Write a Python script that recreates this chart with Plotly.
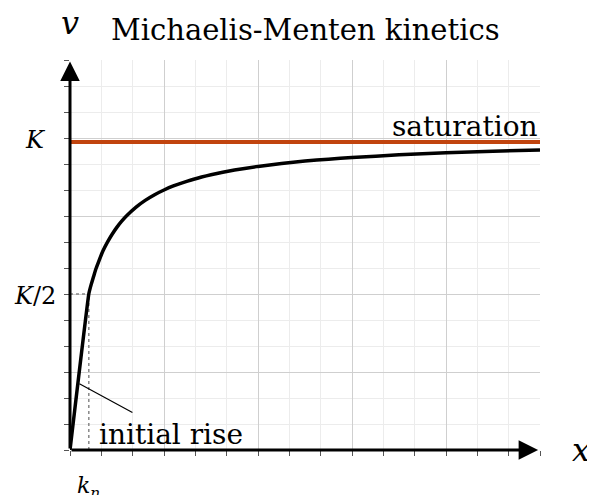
import plotly.graph_objects as go

# ---- data ----
x_vals = [0, 0.2, 0.225, 0.25, 0.275, 0.3, 0.35, 0.4, 0.45, 0.5, 0.55, 0.6, 0.7, 0.8, 0.9, 1.0,
          1.1, 1.25, 1.4, 1.5, 1.75, 2.0, 2.25, 2.5, 2.75, 3.0, 3.5, 4.0, 4.5, 5.0]
v_vals = [0, 2.0, 2.12, 2.22, 2.32, 2.4, 2.55, 2.667, 2.769, 2.857, 2.933, 3.0, 3.111, 3.2,
          3.273, 3.333, 3.385, 3.448, 3.5, 3.529, 3.590, 3.636, 3.673, 3.704, 3.729, 3.75,
          3.784, 3.81, 3.830, 3.846]
saturation_x = [0, 5]
saturation_v = [3.95, 3.95]
k_n = 0.2
half_K = 2
y_tick_vals = [2, 4]
y_tick_text = ["<i>K</i>/2", "<i>K</i>"]

SERIF = "DejaVu Serif"
ORANGE = "#c1440e"

fig = go.Figure()

# guide lines (dotted)
fig.add_trace(go.Scatter(x=[k_n, k_n], y=[0, half_K], mode="lines",
                         line=dict(color="#888888", width=1.5, dash="dot"),
                         hoverinfo="skip", showlegend=False))
fig.add_trace(go.Scatter(x=[0, k_n], y=[half_K, half_K], mode="lines",
                         line=dict(color="#888888", width=1.5, dash="dot"),
                         hoverinfo="skip", showlegend=False))

# saturation line
fig.add_trace(go.Scatter(x=saturation_x, y=saturation_v, mode="lines",
                         line=dict(color=ORANGE, width=4),
                         hoverinfo="skip", showlegend=False))

# curve
fig.add_trace(go.Scatter(x=x_vals, y=v_vals, mode="lines",
                         line=dict(color="black", width=3.5, shape="spline", smoothing=0.3),
                         hoverinfo="skip", showlegend=False))

minor_vals = [i / 3 for i in range(0, 16)]

axis_common = dict(
    range=[0, 5], showline=False, zeroline=False,
    showgrid=True, gridcolor="#cfcfcf", gridwidth=1,
    ticks="", showticklabels=False,
    minor=dict(tickmode="array", tickvals=minor_vals, showgrid=True,
               gridcolor="#ececec", gridwidth=1,
               ticks="outside", ticklen=5, tickcolor="#555555", tickwidth=1),
)

# page body has an 8px margin, so the figure is shifted by 8px
fig.update_layout(
    width=587, height=487, autosize=False,
    margin=dict(l=62, r=55, t=52, b=45),
    plot_bgcolor="white", paper_bgcolor="white",
    xaxis=dict(**axis_common, tickmode="array", tickvals=[0, 1, 2, 3, 4, 5]),
    yaxis=dict(**axis_common, tickmode="array", tickvals=[0, 1, 2, 3, 4, 5]),
    showlegend=False,
)

annotations = []
# axes with arrows
annotations.append(dict(x=4.98, y=0, ax=0, ay=0, xref="x", yref="y", axref="x", ayref="y",
                        text="", showarrow=True, arrowhead=2, arrowsize=1.3,
                        arrowwidth=3, arrowcolor="black"))
annotations.append(dict(x=0, y=4.98, ax=0, ay=0, xref="x", yref="y", axref="x", ayref="y",
                        text="", showarrow=True, arrowhead=2, arrowsize=1.3,
                        arrowwidth=3, arrowcolor="black"))
# y tick labels (centred left of the axis)
for val, txt in zip(y_tick_vals, y_tick_text):
    annotations.append(dict(x=0, y=val, xref="x", yref="y", text=txt, showarrow=False,
                            xanchor="center", xshift=-35, yshift=-2,
                            font=dict(family=SERIF, size=24, color="black")))
# k_n label
annotations.append(dict(x=k_n, y=0, xref="x", yref="y", text="<i>k</i><sub><i>n</i></sub>",
                        showarrow=False, xanchor="center", yanchor="top", yshift=-21,
                        font=dict(family=SERIF, size=22, color="black")))
# axis names
annotations.append(dict(x=0, y=1, xref="x", yref="paper", text="<i>v</i>", showarrow=False,
                        xanchor="center", yanchor="middle", yshift=37,
                        font=dict(family=SERIF, size=32, color="black")))
annotations.append(dict(x=1, y=0, xref="paper", yref="y", text="<i>x</i>", showarrow=False,
                        xanchor="left", yanchor="middle", xshift=30, yshift=0,
                        font=dict(family=SERIF, size=32, color="black")))
# title
annotations.append(dict(x=(305 - 70) / 470, y=1, xref="paper", yref="paper",
                        text="Michaelis-Menten kinetics", showarrow=False,
                        xanchor="center", yanchor="middle", yshift=30,
                        font=dict(family=SERIF, size=29, color="black")))
# labels
annotations.append(dict(x=5, y=3.95, xref="x", yref="y", text="saturation", showarrow=False,
                        xanchor="right", yanchor="bottom", yshift=-3,
                        font=dict(family=SERIF, size=28, color="black")))
annotations.append(dict(x=0.29, y=0, xref="x", yref="y", text="initial rise", showarrow=False,
                        xanchor="left", yanchor="bottom", yshift=-3,
                        font=dict(family=SERIF, size=28, color="black")))
# pointer line for initial rise
annotations.append(dict(x=0.1, y=0.85, ax=0.68, ay=0.47, xref="x", yref="y", axref="x", ayref="y",
                        text="", showarrow=True, arrowhead=0, arrowwidth=1.2, arrowcolor="black"))

fig.update_layout(annotations=annotations)
fig.write_html("out.html")
